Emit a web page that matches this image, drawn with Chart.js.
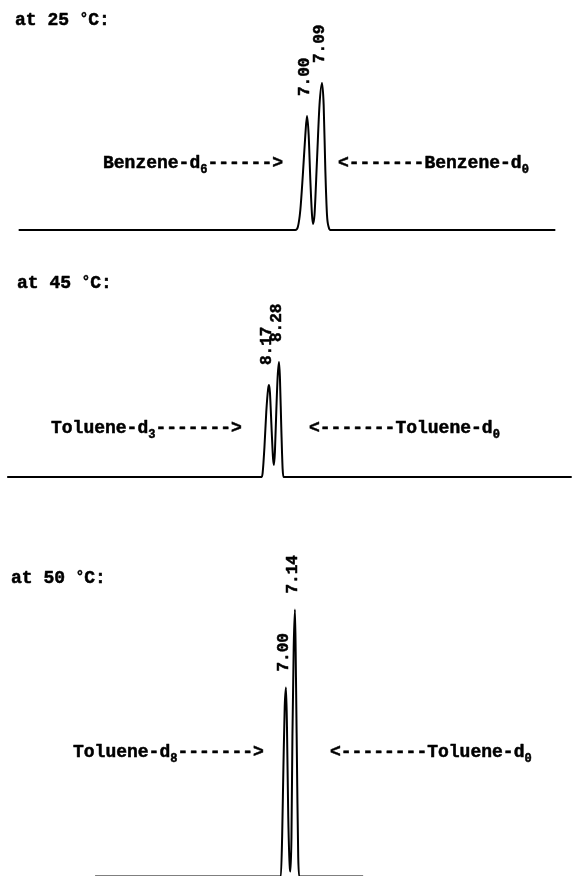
<!DOCTYPE html>
<html>
<head>
<meta charset="utf-8">
<script src="https://cdn.jsdelivr.net/npm/chart.js@4/dist/chart.umd.min.js"></script>
<style>
  html, body { margin: 0; padding: 0; background: #fff; }
  body { width: 572px; height: 876px; position: relative; overflow: hidden; }
  canvas { position: absolute; left: 0; }
</style>
</head>
<body>
<canvas id="c1" width="572" height="260" style="top:0px"></canvas>
<canvas id="c2" width="572" height="260" style="top:260px"></canvas>
<canvas id="c3" width="572" height="356" style="top:520px"></canvas>
<script>
// ---------- Panel 1: at 25 °C, benzene-d6 / benzene-d0 ----------
const p1Title = ['at 25 ', '°', 'C:'];
const p1Time   = [5.27, 6.93, 6.945, 6.96, 6.975, 6.99, 7.00, 7.01, 7.02, 7.03, 7.036, 7.045, 7.06, 7.075, 7.09, 7.10, 7.11, 7.12, 7.13, 7.14, 8.49];
const p1Signal = [0,    0,    3,     20,   55,    95,   114,  95,   50,   15,   6,     15,    70,   125,   147,  125,  60,   15,   3,    0,    0];
const p1PeakTimes  = [7.00, 7.09];
const p1PeakLabels = ['7.00', '7.09'];
const p1LeftName  = ['Benzene-d', '6', '------>'];
const p1RightName = ['<-------Benzene-d', '0', ''];

// ---------- Panel 2: at 45 °C, toluene-d3 / toluene-d0 ----------
const p2Title = ['at 45 ', '°', 'C:'];
const p2Time   = [5.29, 8.09, 8.10, 8.12, 8.14, 8.16, 8.17, 8.18, 8.20, 8.215, 8.225, 8.235, 8.25, 8.265, 8.28, 8.29, 8.305, 8.32, 8.33, 11.50];
const p2Signal = [0,    0,    4,    30,   65,   88,   92,   85,   45,   18,    12,    25,    65,   100,   115,  100,  50,    8,    0,    0];
const p2PeakTimes  = [8.17, 8.28];
const p2PeakLabels = ['8.17', '8.28'];
const p2LeftName  = ['Toluene-d', '3', '------->'];
const p2RightName = ['<-------Toluene-d', '0', ''];

// ---------- Panel 3: at 50 °C, toluene-d8 / toluene-d0 ----------
const p3Title = ['at 50 ', '°', 'C:'];
const p3Time   = [4.03, 6.92, 6.94, 6.96, 6.98, 7.00, 7.015, 7.035, 7.06, 7.07, 7.085, 7.10, 7.12, 7.14, 7.155, 7.175, 7.19, 7.205, 8.20];
const p3Signal = [0,    0,    40,   110,  170,  189,  150,   60,    8,    5,    40,    140,  230,  267,  200,   90,    20,   0,     0];
const p3PeakTimes  = [7.00, 7.14];
const p3PeakLabels = ['7.00', '7.14'];
const p3LeftName  = ['Toluene-d', '8', '------->'];
const p3RightName = ['<--------Toluene-d', '0', ''];

const FONT = '"Liberation Mono", "Courier New", monospace';

function heavyText(ctx, s, x, y) {
  ctx.fillText(s, x, y);
  ctx.strokeText(s, x, y);
}

// parts: [normal, small (sub/superscript), normal]
function drawParts(ctx, parts, x, y, smallShift, smallSize) {
  ctx.textAlign = 'left';
  ctx.textBaseline = 'alphabetic';
  ctx.font = 'bold 18px ' + FONT;
  heavyText(ctx, parts[0], x, y);
  let cx = x + ctx.measureText(parts[0]).width;
  ctx.font = 'bold ' + smallSize + 'px ' + FONT;
  heavyText(ctx, parts[1], cx, y + smallShift);
  cx += ctx.measureText(parts[1]).width;
  ctx.font = 'bold 18px ' + FONT;
  if (parts[2]) heavyText(ctx, parts[2], cx, y);
}

function makePanel(id, time, signal, peakTimes, peakLabels, title, leftName, rightName, cfg) {
  const labelPlugin = {
    id: 'annot' + id,
    afterDatasetsDraw(chart) {
      const ctx = chart.ctx;
      const xs = chart.scales.x, ys = chart.scales.y;
      ctx.save();
      ctx.fillStyle = '#000';
      ctx.strokeStyle = '#000';
      ctx.lineWidth = 0.5;
      ctx.lineJoin = 'round';
      // panel title with small raised degree sign
      drawParts(ctx, title, cfg.titleX, cfg.titleY, -2, 14);
      // compound labels with subscripts
      drawParts(ctx, leftName, cfg.leftX, cfg.nameY, 5, 12);
      drawParts(ctx, rightName, cfg.rightX, cfg.nameY, 5, 12);
      // peak retention time labels, rotated
      ctx.font = 'bold 16px ' + FONT;
      peakTimes.forEach((t, i) => {
        const idx = time.indexOf(t);
        const h = signal[idx];
        const px = xs.getPixelForValue(t) - 2;
        const py = ys.getPixelForValue(h) - cfg.gap;
        ctx.save();
        ctx.translate(px, py);
        ctx.rotate(-Math.PI / 2);
        ctx.textAlign = 'left';
        ctx.textBaseline = 'middle';
        heavyText(ctx, peakLabels[i], 0, 0);
        ctx.restore();
      });
      ctx.restore();
    }
  };
  return new Chart(document.getElementById(id), {
    type: 'line',
    data: {
      datasets: [{
        data: time.map((t, i) => ({ x: t, y: signal[i] })),
        borderColor: '#000',
        borderWidth: 2,
        pointRadius: 0,
        cubicInterpolationMode: 'monotone',
        fill: false,
        clip: false
      }]
    },
    options: {
      responsive: false,
      animation: false,
      layout: { padding: 0 },
      plugins: { legend: { display: false }, tooltip: { enabled: false }, title: { display: false } },
      scales: {
        x: { type: 'linear', display: false, min: cfg.xMin, max: cfg.xMax },
        y: { type: 'linear', display: false, min: cfg.yMin, max: cfg.yMax }
      }
    },
    plugins: [labelPlugin]
  });
}

makePanel('c1', p1Time, p1Signal, p1PeakTimes, p1PeakLabels, p1Title, p1LeftName, p1RightName,
  { xMin: 5.158, xMax: 8.59, yMin: -30, yMax: 230, titleX: 15, titleY: 25, leftX: 103, rightX: 338, nameY: 168, gap: 20 });
makePanel('c2', p2Time, p2Signal, p2PeakTimes, p2PeakLabels, p2Title, p2LeftName, p2RightName,
  { xMin: 5.211, xMax: 11.503, yMin: -43, yMax: 217, titleX: 17, titleY: 28, leftX: 51, rightX: 309, nameY: 173, gap: 20 });
makePanel('c3', p3Time, p3Signal, p3PeakTimes, p3PeakLabels, p3Title, p3LeftName, p3RightName,
  { xMin: 2.551, xMax: 11.449, yMin: 0.5, yMax: 356.5, titleX: 11, titleY: 63, leftX: 73, rightX: 330, nameY: 237, gap: 16 });
</script>
</body>
</html>
